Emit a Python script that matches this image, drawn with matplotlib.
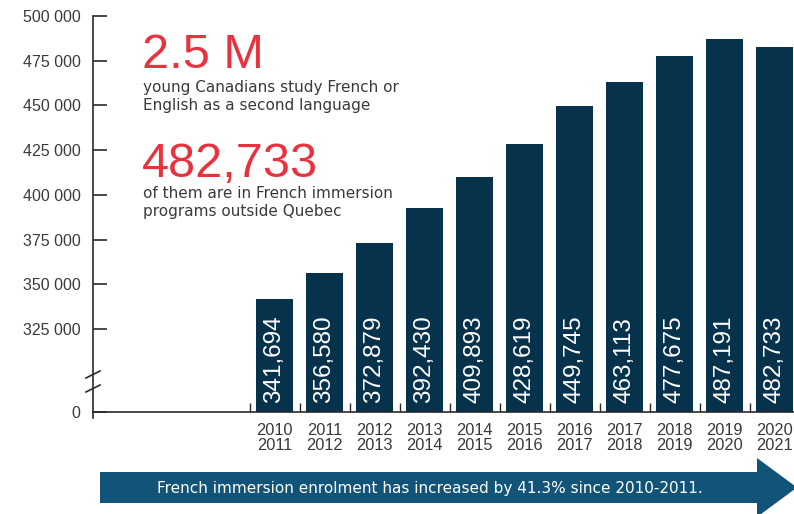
import matplotlib
matplotlib.use("Agg")
import matplotlib.pyplot as plt
from matplotlib.lines import Line2D
from matplotlib.patches import Polygon
import numpy as np

years_top = ["2010", "2011", "2012", "2013", "2014", "2015", "2016", "2017", "2018", "2019", "2020"]
years_bot = ["2011", "2012", "2013", "2014", "2015", "2016", "2017", "2018", "2019", "2020", "2021"]
enrolment = [341694, 356580, 372879, 392430, 409893, 428619, 449745, 463113, 477675, 487191, 482733]
ytick_vals = [325000, 350000, 375000, 400000, 425000, 450000, 475000, 500000]
ytick_labels = ["325 000", "350 000", "375 000", "400 000", "425 000", "450 000", "475 000", "500 000"]

W, H = 794, 514
BAR = "#06324b"
ARROW = "#115478"
RED = "#e8333f"
AX = "#2a2a2a"
TXT = "#3a3a3a"
BODY = "DejaVu Sans"

fig = plt.figure(figsize=(W / 100, H / 100), dpi=100)

def fx(px):
    return px / W

def fy(py):
    return 1 - py / H

ax = fig.add_axes([fx(93), fy(412), fx(794) - fx(93), fy(16) - fy(412)])
ybot = 325000 - (412 - 329) * 175000 / 313
x = np.arange(len(enrolment))
ax.bar(x, [v - ybot for v in enrolment], bottom=ybot, width=0.74, color=BAR, zorder=2)
ax.set_ylim(ybot, 500000)
ax.set_xlim(-3.63, 10.39)

for s in ["top", "right"]:
    ax.spines[s].set_visible(False)
for s in ["left", "bottom"]:
    ax.spines[s].set_color(AX)
    ax.spines[s].set_linewidth(1.2)

ax.set_yticks([ybot] + ytick_vals)
ax.set_yticklabels(["0"] + ytick_labels, family="Liberation Sans", fontsize=11.5, color=TXT)
ax.tick_params(axis="y", direction="in", length=10, width=1.2, color=AX, pad=9)

ax.set_xticks(x - 0.5)
ax.set_xticklabels([])
ax.tick_params(axis="x", which="major", direction="in", length=6.5, width=1.0, color=AX)
ax.set_xticks(x, minor=True)
ax.set_xticklabels([f"{a}\n{b}" for a, b in zip(years_top, years_bot)], minor=True,
                   family="Liberation Sans", fontsize=11.8, color=TXT, linespacing=0.95)
ax.tick_params(axis="x", which="minor", length=0, pad=8)

for xi, v in zip(x, enrolment):
    ax.annotate(f"{v:,}", xy=(xi, ybot), xytext=(0, 6.5), textcoords="offset points",
                rotation=90, ha="center", va="bottom", color="white", fontsize=17.5,
                family=["Liberation Sans Narrow", "Liberation Sans", "DejaVu Sans"], zorder=3)

# axis extension below 0 and break marks
fig.add_artist(Line2D([fx(93), fx(93)], [fy(418), fy(412)], color=AX, lw=1.2))
for y0 in (378, 392):
    fig.add_artist(Line2D([fx(86), fx(100)], [fy(y0), fy(y0 - 7)], color=AX, lw=1.2))

# annotation text
fig.text(fx(142), fy(68), "2.5 M", color=RED, fontsize=35, family="Liberation Sans", va="baseline")
fig.text(fx(143), fy(92), "young Canadians study French or", color=TXT, fontsize=11, family=BODY, va="baseline")
fig.text(fx(143), fy(110), "English as a second language", color=TXT, fontsize=11, family=BODY, va="baseline")
fig.text(fx(142), fy(177), "482,733", color=RED, fontsize=35, family="Liberation Sans", va="baseline")
fig.text(fx(143), fy(198), "of them are in French immersion", color=TXT, fontsize=11, family=BODY, va="baseline")
fig.text(fx(143), fy(216), "programs outside Quebec", color=TXT, fontsize=11, family=BODY, va="baseline")

# bottom arrow
pts = [(100, 472), (757, 472), (757, 458), (797, 487.5), (757, 517), (757, 503), (100, 503)]
fig.add_artist(Polygon([(fx(a), fy(b)) for a, b in pts], closed=True, facecolor=ARROW,
                       edgecolor="none", transform=fig.transFigure))
fig.text(fx(430), fy(488), "French immersion enrolment has increased by 41.3% since 2010-2011.",
         color="white", fontsize=11, family=BODY, ha="center", va="center")

fig.savefig("out.png", dpi=100)
